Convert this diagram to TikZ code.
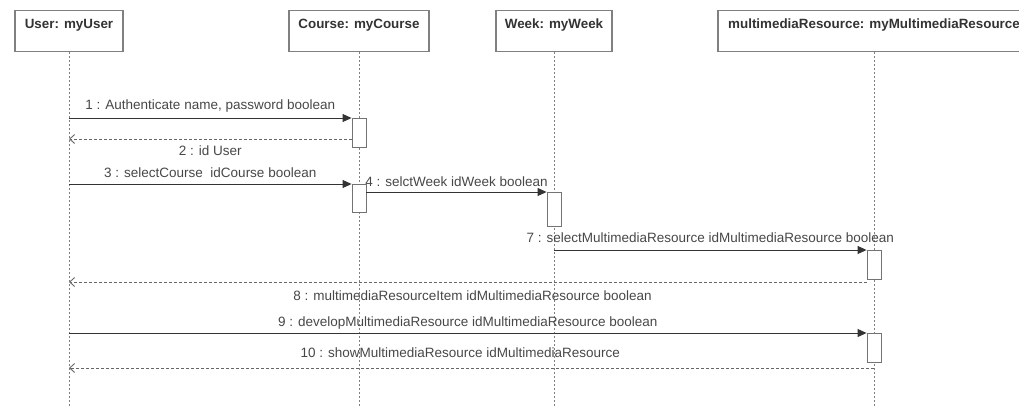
\documentclass[tikz,border=0pt]{standalone}
\usepackage{fontspec}
\setmainfont{Liberation Sans}
\usepackage{tikz}
\usetikzlibrary{arrows.meta, positioning}

\begin{document}
\begin{tikzpicture}[x=1pt, y=-1pt,
  obj/.style={rectangle, draw=black!50, line width=1.1pt, fill=white,
              anchor=north, inner xsep=0pt, inner ysep=4.5pt,
              text height=13pt, text depth=19pt,
              font=\fontsize{13.4}{15}\selectfont\bfseries, text=black!80},
  life/.style={draw=black!50, line width=0.8pt, dash pattern=on 2pt off 2pt},
  act/.style={rectangle, draw=black!55, line width=0.9pt, fill=white,
              anchor=north, minimum width=14pt, inner sep=0pt},
  msg/.style={-{Triangle[length=9pt, width=8pt]}, draw=black!80, line width=0.9pt},
  ret/.style={-{Straight Barb[length=5pt, width=9pt]}, draw=black!60,
              line width=0.9pt, dash pattern=on 3pt off 2pt},
  lab/.style={font=\fontsize{13.5}{15}\selectfont, text=black!72,
              inner sep=0pt, text height=9.7pt, text depth=0pt},
]
  \useasboundingbox (0,0) rectangle (1019,408);
  \coordinate (bottom) at (0,408);

  % objects
  \node[obj, minimum width=108pt] (user) at (69,10) {User: myUser};
  \node[obj, minimum width=140pt] (course) at (359,10) {Course: myCourse};
  \node[obj, minimum width=116pt] (week) at (554,10) {Week: myWeek};
  \node[obj, minimum width=312pt] (media) at (874,10)
    {multimediaResource: myMultimediaResource};

  % lifelines
  \foreach \o in {user, course, week, media}
    \draw[life] (\o.south) -- (\o.south |- bottom);

  % activations
  \node[act, minimum height=29pt] (actC1) at (course.south |- 0,118) {};
  \node[act, minimum height=28pt] (actC2) at (course.south |- 0,184) {};
  \node[act, minimum height=34pt] (actW) at (week.south |- 0,192) {};
  \node[act, minimum height=29pt] (actM1) at (media.south |- 0,250) {};
  \node[act, minimum height=29pt] (actM2) at (media.south |- 0,333) {};

  % message rows
  \coordinate (row2) at (0,139);
  \coordinate (row8) at (0,282);
  \coordinate (row10) at (0,368);

  \draw[msg] (user |- actC1.north) -- node[lab, above=8pt, midway]
    {1 : Authenticate name, password boolean} (actC1.north west);
  \draw[ret] (actC1.west |- row2) -- node[lab, below=6pt, midway]
    {2 : id User} (user |- row2);
  \draw[msg] (user |- actC2.north) -- node[lab, above=6pt, midway]
    {3 : selectCourse~ idCourse boolean} (actC2.north west);
  \draw[msg] (actC2.east |- actW.north) -- node[lab, above=5pt, midway]
    {4 : selctWeek idWeek boolean} (actW.north west);
  \draw[msg] (week |- actM1.north) -- node[lab, above=7pt, midway]
    {7 : selectMultimediaResource idMultimediaResource boolean} (actM1.north west);
  \draw[ret] (actM1.west |- row8) -- node[lab, below=8pt, pos=0.494]
    {8 : multimediaResourceItem idMultimediaResource boolean} (user |- row8);
  \draw[msg] (user |- actM2.north) -- node[lab, above=6pt, midway]
    {9 : developMultimediaResource idMultimediaResource boolean} (actM2.north west);
  \draw[ret] (media |- row10) -- node[lab, above=10pt, pos=0.514]
    {10 : showMultimediaResource idMultimediaResource} (user |- row10);
\end{tikzpicture}
\end{document}
